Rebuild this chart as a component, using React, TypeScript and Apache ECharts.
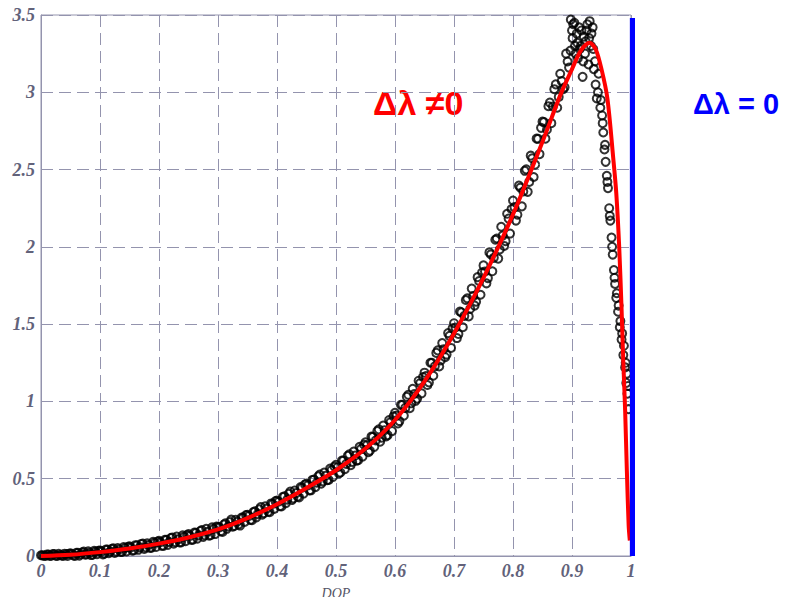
import React, { useEffect, useRef } from "react";
import * as echarts from "echarts";

// Measured histogram (black open circles) – first sampling
const scatterDop: number[] = [
  0.000, 0.005, 0.010, 0.015, 0.020, 0.025, 0.030, 0.035, 0.040, 0.045,
  0.050, 0.055, 0.060, 0.065, 0.070, 0.075, 0.080, 0.085, 0.090, 0.095,
  0.100, 0.105, 0.110, 0.115, 0.120, 0.125, 0.130, 0.135, 0.140, 0.145,
  0.150, 0.155, 0.160, 0.165, 0.170, 0.175, 0.180, 0.185, 0.190, 0.195,
  0.200, 0.205, 0.210, 0.215, 0.220, 0.225, 0.230, 0.235, 0.240, 0.245,
  0.250, 0.255, 0.260, 0.265, 0.270, 0.275, 0.280, 0.285, 0.290, 0.295,
  0.300, 0.305, 0.310, 0.315, 0.320, 0.325, 0.330, 0.335, 0.340, 0.345,
  0.350, 0.355, 0.360, 0.365, 0.370, 0.375, 0.380, 0.385, 0.390, 0.395,
  0.400, 0.405, 0.410, 0.415, 0.420, 0.425, 0.430, 0.435, 0.440, 0.445,
  0.450, 0.455, 0.460, 0.465, 0.470, 0.475, 0.480, 0.485, 0.490, 0.495,
  0.500, 0.505, 0.510, 0.515, 0.520, 0.525, 0.530, 0.535, 0.540, 0.545,
  0.550, 0.555, 0.560, 0.565, 0.570, 0.575, 0.580, 0.585, 0.590, 0.595,
  0.600, 0.605, 0.610, 0.615, 0.620, 0.625, 0.630, 0.635, 0.640, 0.645,
  0.650, 0.655, 0.660, 0.665, 0.670, 0.675, 0.680, 0.685, 0.690, 0.695,
  0.700, 0.705, 0.710, 0.715, 0.720, 0.725, 0.730, 0.735, 0.740, 0.745,
  0.750, 0.755, 0.760, 0.765, 0.770, 0.775, 0.780, 0.785, 0.790, 0.795,
  0.800, 0.805, 0.810, 0.815, 0.820, 0.825, 0.830, 0.835, 0.840, 0.845,
  0.850, 0.855, 0.860, 0.865, 0.870, 0.875, 0.880, 0.885, 0.890, 0.895,
  0.898, 0.900, 0.902, 0.905, 0.908, 0.910, 0.912, 0.915, 0.918, 0.920,
  0.922, 0.925, 0.928, 0.930, 0.932, 0.935, 0.937, 0.940, 0.942, 0.945,
  0.948, 0.951, 0.953, 0.955, 0.957, 0.959, 0.961, 0.963, 0.965, 0.967,
  0.969, 0.971, 0.973, 0.975, 0.978, 0.981, 0.984, 0.987, 0.990, 0.992,
  0.994, 0.996,
];
const scatterPdf: number[] = [
  0.005, 0.002, 0.010, 0.000, 0.012, 0.002, 0.014, 0.003, 0.015, 0.000,
  0.018, 0.004, 0.020, 0.002, 0.024, 0.008, 0.030, 0.006, 0.034, 0.012,
  0.036, 0.010, 0.042, 0.018, 0.046, 0.020, 0.052, 0.026, 0.058, 0.030,
  0.062, 0.034, 0.070, 0.040, 0.078, 0.046, 0.082, 0.052, 0.092, 0.058,
  0.098, 0.066, 0.104, 0.072, 0.116, 0.080, 0.126, 0.088, 0.134, 0.096,
  0.142, 0.104, 0.152, 0.112, 0.162, 0.124, 0.176, 0.132, 0.186, 0.142,
  0.188, 0.160, 0.204, 0.176, 0.220, 0.190, 0.234, 0.204, 0.248, 0.220,
  0.266, 0.234, 0.284, 0.250, 0.302, 0.268, 0.322, 0.286, 0.340, 0.304,
  0.358, 0.322, 0.382, 0.342, 0.402, 0.362, 0.424, 0.384, 0.446, 0.404,
  0.468, 0.424, 0.492, 0.446, 0.516, 0.468, 0.540, 0.490, 0.566, 0.512,
  0.590, 0.534, 0.618, 0.562, 0.648, 0.588, 0.676, 0.616, 0.706, 0.642,
  0.736, 0.672, 0.772, 0.706, 0.808, 0.740, 0.844, 0.774, 0.880, 0.808,
  0.926, 0.858, 0.978, 0.908, 1.030, 0.956, 1.082, 1.004, 1.134, 1.052,
  1.186, 1.106, 1.250, 1.166, 1.314, 1.226, 1.378, 1.286, 1.442, 1.346,
  1.506, 1.410, 1.582, 1.480, 1.656, 1.550, 1.730, 1.620, 1.804, 1.690,
  1.880, 1.764, 1.964, 1.842, 2.046, 1.924, 2.130, 2.006, 2.214, 2.086,
  2.300, 2.170, 2.396, 2.262, 2.492, 2.356, 2.590, 2.452, 2.700, 2.600,
  2.810, 2.700, 2.910, 2.800, 3.020, 2.900, 3.120, 3.020, 3.250, 3.160,
  3.47, 3.40, 3.44, 3.30, 3.38, 3.22, 3.42, 3.30, 3.10, 3.36,
  3.25, 3.40, 3.18, 3.46, 3.30, 3.42, 3.15, 3.05, 2.96, 3.12,
  2.90, 2.85, 2.74, 2.63, 2.55, 2.46, 2.38, 2.25, 2.17, 2.06,
  1.95, 1.85, 1.76, 1.67, 1.58, 1.48, 1.40, 1.30, 1.22, 1.12,
  1.05, 0.95,
];

// Measured histogram – second (interleaved) sampling
const scatterDopB: number[] = [
  0.0025, 0.0075, 0.0125, 0.0175, 0.0225, 0.0275, 0.0325, 0.0375, 0.0425, 0.0475,
  0.0525, 0.0575, 0.0625, 0.0675, 0.0725, 0.0775, 0.0825, 0.0875, 0.0925, 0.0975,
  0.1025, 0.1075, 0.1125, 0.1175, 0.1225, 0.1275, 0.1325, 0.1375, 0.1425, 0.1475,
  0.1525, 0.1575, 0.1625, 0.1675, 0.1725, 0.1775, 0.1825, 0.1875, 0.1925, 0.1975,
  0.2025, 0.2075, 0.2125, 0.2175, 0.2225, 0.2275, 0.2325, 0.2375, 0.2425, 0.2475,
  0.2525, 0.2575, 0.2625, 0.2675, 0.2725, 0.2775, 0.2825, 0.2875, 0.2925, 0.2975,
  0.3025, 0.3075, 0.3125, 0.3175, 0.3225, 0.3275, 0.3325, 0.3375, 0.3425, 0.3475,
  0.3525, 0.3575, 0.3625, 0.3675, 0.3725, 0.3775, 0.3825, 0.3875, 0.3925, 0.3975,
  0.4025, 0.4075, 0.4125, 0.4175, 0.4225, 0.4275, 0.4325, 0.4375, 0.4425, 0.4475,
  0.4525, 0.4575, 0.4625, 0.4675, 0.4725, 0.4775, 0.4825, 0.4875, 0.4925, 0.4975,
  0.5025, 0.5075, 0.5125, 0.5175, 0.5225, 0.5275, 0.5325, 0.5375, 0.5425, 0.5475,
  0.5525, 0.5575, 0.5625, 0.5675, 0.5725, 0.5775, 0.5825, 0.5875, 0.5925, 0.5975,
  0.6025, 0.6075, 0.6125, 0.6175, 0.6225, 0.6275, 0.6325, 0.6375, 0.6425, 0.6475,
  0.6525, 0.6575, 0.6625, 0.6675, 0.6725, 0.6775, 0.6825, 0.6875, 0.6925, 0.6975,
  0.7025, 0.7075, 0.7125, 0.7175, 0.7225, 0.7275, 0.7325, 0.7375, 0.7425, 0.7475,
  0.7525, 0.7575, 0.7625, 0.7675, 0.7725, 0.7775, 0.7825, 0.7875, 0.7925, 0.7975,
  0.8025, 0.8075, 0.8125, 0.8175, 0.8225, 0.8275, 0.8325, 0.8375, 0.8425, 0.8475,
  0.8525, 0.8575, 0.8625, 0.8675, 0.8725, 0.8775, 0.8825, 0.8875, 0.8925, 0.8975,
  0.901, 0.904, 0.906, 0.909, 0.913, 0.916, 0.919, 0.923, 0.926, 0.929,
  0.933, 0.936, 0.939, 0.944, 0.949, 0.952, 0.956, 0.960, 0.964, 0.968,
  0.972, 0.976, 0.979, 0.982, 0.985, 0.988, 0.991, 0.993, 0.995,
];
const scatterPdfB: number[] = [
  0.004, 0.000, 0.009, 0.002, 0.013, 0.000, 0.006, 0.000, 0.011, 0.015,
  0.013, 0.000, 0.020, 0.012, 0.028, 0.011, 0.020, 0.009, 0.028, 0.034,
  0.030, 0.015, 0.041, 0.030, 0.050, 0.028, 0.042, 0.027, 0.052, 0.059,
  0.055, 0.037, 0.069, 0.056, 0.081, 0.055, 0.071, 0.054, 0.085, 0.093,
  0.089, 0.066, 0.105, 0.090, 0.120, 0.089, 0.108, 0.088, 0.125, 0.136,
  0.130, 0.106, 0.150, 0.133, 0.168, 0.134, 0.157, 0.134, 0.176, 0.190,
  0.185, 0.156, 0.211, 0.191, 0.235, 0.194, 0.222, 0.197, 0.249, 0.265,
  0.259, 0.232, 0.289, 0.271, 0.316, 0.277, 0.307, 0.283, 0.337, 0.355,
  0.351, 0.320, 0.386, 0.365, 0.417, 0.372, 0.407, 0.379, 0.442, 0.463,
  0.457, 0.425, 0.494, 0.474, 0.527, 0.483, 0.519, 0.492, 0.556, 0.578,
  0.574, 0.540, 0.618, 0.596, 0.658, 0.608, 0.650, 0.620, 0.694, 0.720,
  0.718, 0.681, 0.771, 0.748, 0.819, 0.765, 0.814, 0.782, 0.867, 0.903,
  0.908, 0.873, 0.978, 0.958, 1.043, 0.988, 1.048, 1.018, 1.118, 1.158,
  1.164, 1.123, 1.250, 1.227, 1.330, 1.265, 1.338, 1.303, 1.424, 1.473,
  1.478, 1.436, 1.576, 1.553, 1.667, 1.599, 1.681, 1.645, 1.779, 1.834,
  1.841, 1.798, 1.951, 1.929, 2.054, 1.983, 2.073, 2.037, 2.183, 2.245,
  2.257, 2.208, 2.383, 2.358, 2.501, 2.420, 2.573, 2.532, 2.699, 2.770,
  2.807, 2.758, 2.933, 2.908, 3.051, 2.970, 3.073, 3.032, 3.199, 3.270,
  3.35, 3.45, 3.25, 3.32, 3.28, 3.40, 3.20, 3.33, 3.44, 3.35,
  3.38, 3.28, 3.20, 3.00, 2.95, 2.80, 2.66, 2.42, 2.20, 2.00,
  1.80, 1.70, 1.62, 1.52, 1.44, 1.36, 1.25, 1.18, 1.10,
];

// Fitted curve (red, Δλ ≠ 0)
const fitDop: number[] = [
  0, 0.05, 0.1, 0.15, 0.2, 0.25, 0.3, 0.35, 0.4, 0.45, 0.5, 0.55, 0.6, 0.65,
  0.7, 0.75, 0.8, 0.85, 0.88, 0.9, 0.915, 0.93, 0.94, 0.95, 0.96, 0.97, 0.975,
  0.98, 0.984, 0.987, 0.99, 0.993, 0.996, 0.998,
];
const fitPdf: number[] = [
  0, 0.008, 0.025, 0.048, 0.08, 0.12, 0.172, 0.245, 0.335, 0.44, 0.555, 0.695,
  0.88, 1.13, 1.44, 1.8, 2.21, 2.68, 2.98, 3.15, 3.27, 3.32, 3.28, 3.15, 2.96,
  2.57, 2.35, 2.0, 1.6, 1.25, 0.95, 0.55, 0.2, 0.1,
];

// Δλ = 0 : delta at DOP = 1 (blue)
const deltaDop: number[] = [1.004, 1.004];
const deltaPdf: number[] = [0, 3.48];

const xMin = 0, xMax = 1, xStep = 0.1;
const yMin = 0, yMax = 3.5, yStep = 0.5;

const labelRed = "Δλ ≠0";
const labelBlue = "Δλ = 0";
const xName = "DOP";

export default function App() {
  const ref = useRef<HTMLDivElement>(null);
  useEffect(() => {
    if (!ref.current) return;
    const chart = echarts.init(ref.current, undefined, { renderer: "svg" });
    const gridColor = "#9494ae";
    const tickFont = {
      fontFamily: "'Liberation Serif', 'DejaVu Serif', serif",
      fontStyle: "italic" as const,
      fontWeight: "bold" as const,
      fontSize: 18,
      color: "#62627a",
    };
    const circleStyle = {
      color: "rgba(0,0,0,0)",
      borderColor: "#000000",
      borderWidth: 2,
    };
    chart.setOption({
      animation: false,
      backgroundColor: "#ffffff",
      grid: {
        left: 41,
        right: 157,
        top: 15,
        bottom: 44,
        show: true,
        borderColor: gridColor,
        borderWidth: 1,
        backgroundColor: "#ffffff",
      },
      xAxis: {
        type: "value",
        min: xMin,
        max: xMax,
        interval: xStep,
        name: xName,
        nameLocation: "middle",
        nameGap: 30,
        nameTextStyle: {
          fontFamily: "'Liberation Serif', serif",
          fontStyle: "italic",
          fontSize: 14,
          color: "#555566",
        },
        axisLine: { show: true, lineStyle: { color: gridColor, width: 1 } },
        axisTick: { show: false },
        axisLabel: { ...tickFont, margin: 6 },
        splitLine: {
          show: true,
          lineStyle: { color: gridColor, width: 1, type: [12, 6] },
        },
      },
      yAxis: {
        type: "value",
        min: yMin,
        max: yMax,
        interval: yStep,
        axisLine: { show: true, lineStyle: { color: gridColor, width: 1 } },
        axisTick: { show: false },
        axisLabel: { ...tickFont, margin: 6 },
        splitLine: {
          show: true,
          lineStyle: { color: gridColor, width: 1, type: [12, 6] },
        },
      },
      series: [
        {
          type: "scatter",
          data: scatterDop.map((x, i) => [x, scatterPdf[i]]),
          symbol: "circle",
          symbolSize: 8,
          itemStyle: circleStyle,
          z: 2,
        },
        {
          type: "scatter",
          data: scatterDopB.map((x, i) => [x, scatterPdfB[i]]),
          symbol: "circle",
          symbolSize: 8,
          itemStyle: circleStyle,
          z: 2,
        },
        {
          type: "line",
          data: fitDop.map((x, i) => [x, fitPdf[i]]),
          smooth: 0.3,
          showSymbol: false,
          lineStyle: { color: "#ff0000", width: 4 },
          z: 3,
        },
        {
          type: "line",
          data: deltaDop.map((x, i) => [x, deltaPdf[i]]),
          showSymbol: false,
          clip: false,
          lineStyle: { color: "#0000ff", width: 7, cap: "butt" },
          z: 4,
        },
      ],
      graphic: [
        {
          type: "text",
          left: 373,
          top: 86,
          style: {
            text: labelRed,
            fill: "#ff0000",
            font: "bold 34px 'Liberation Sans', Arial, sans-serif",
          },
        },
        {
          type: "text",
          left: 693,
          top: 89,
          style: {
            text: labelBlue,
            fill: "#0000ff",
            font: "bold 29px 'Liberation Sans', Arial, sans-serif",
          },
        },
      ],
    });
    return () => chart.dispose();
  }, []);
  return <div ref={ref} style={{ width: 788, height: 605, margin: -8 }} />;
}
